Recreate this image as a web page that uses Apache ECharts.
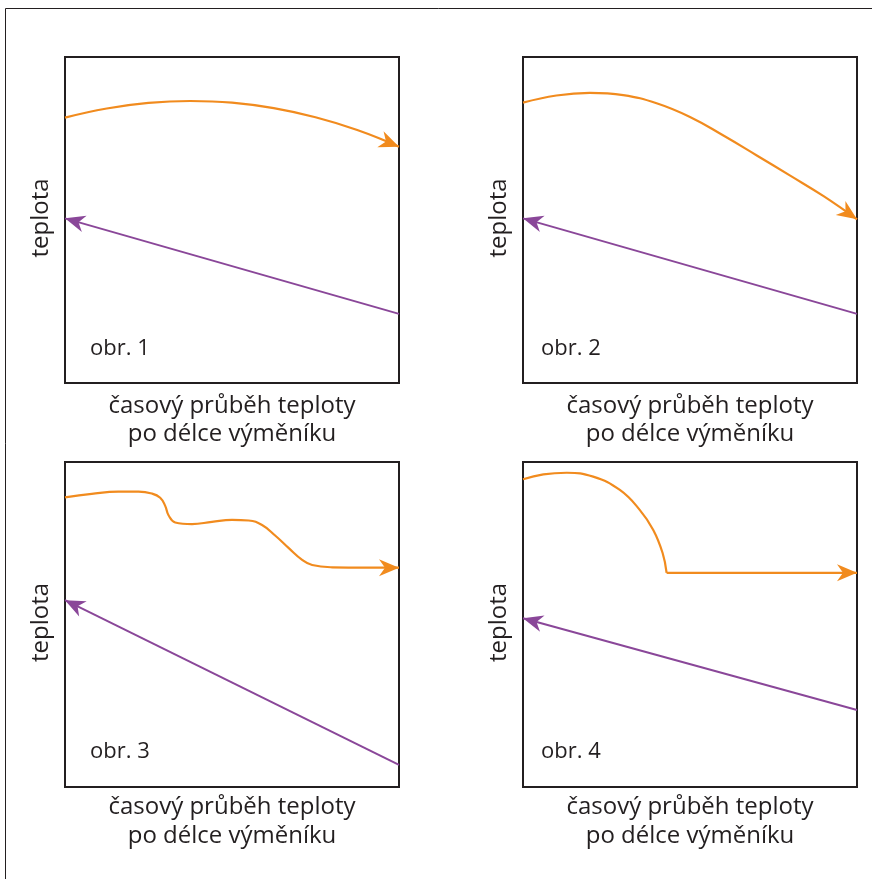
<!DOCTYPE html>
<html>
<head>
<meta charset="utf-8">
<script src="https://cdn.jsdelivr.net/npm/echarts@6/dist/echarts.min.js"></script>
<style>
  html, body { margin: 0; padding: 0; background: #fff; }
  #chart { width: 872px; height: 879px; }
</style>
</head>
<body>
<div id="chart"></div>
<script>
// Temperature profiles along a heat exchanger.
// x = position along the exchanger (0–100 %), y = relative temperature (0–100 %).
// Orange = heating medium (flows left → right), purple = heated medium (flows right → left).
const hot1 = [[0, 81.4], [12.5, 84.2], [25, 85.9], [37.5, 86.5], [50, 86.0], [62.5, 84.3], [75, 81.5], [87.5, 77.6], [100, 72.5]];
const cold1 = [[0, 50.5], [100, 21.2]];

const hot2 = [[0, 86.0], [10, 88.2], [20, 89.0], [30, 88.3], [40, 85.8], [50, 81.6], [60, 75.9], [70, 69.8], [80, 63.6], [90, 57.3], [100, 50.2]];
const cold2 = [[0, 50.5], [100, 21.2]];

const hot3 = [[0, 89.1], [8, 90.2], [16, 90.9], [22, 90.9], [26, 90.3], [28.5, 89.0], [30, 86.5], [31, 83.6], [33, 81.4], [38, 80.9], [44, 81.6], [50, 82.2], [55, 82.0], [59, 80.6], [63, 77.3], [67, 73.5], [71, 69.9], [74, 68.3], [80, 67.6], [90, 67.5], [100, 67.5]];
const cold3 = [[0, 57.5], [100, 6.8]];

const hot4Curve = [[0, 94.7], [6.1, 96.2], [13.1, 96.7], [21.0, 95.5], [29.0, 91.4], [35.0, 85.2], [39.0, 79.1], [41.8, 72.0], [43.0, 65.9]];
const hot4Flat = [[43.0, 65.9], [100, 65.9]];
const cold4 = [[0, 51.9], [100, 23.7]];

const panelTitles = ['obr. 1', 'obr. 2', 'obr. 3', 'obr. 4'];
const yAxisTitle = 'teplota';
const xAxisTitle = ['časový průběh teploty', 'po délce výměníku'];

// ---- styling / layout ----
const HOT = '#f18b1e';
const COLD = '#8a4799';
const INK = '#231f20';
const FONT = '"Open Sans", "Noto Sans", sans-serif';

const grids = [
  { left: 65, top: 57, width: 334, height: 326 },
  { left: 523, top: 57, width: 334, height: 326 },
  { left: 65, top: 462, width: 334, height: 325 },
  { left: 523, top: 462, width: 334, height: 325 }
];

const hotCurves = [[hot1], [hot2], [hot3], [hot4Curve, hot4Flat]];
const coldLines = [cold1, cold2, cold3, cold4];

const series = [];
const xAxes = [];
const yAxes = [];

grids.forEach((g, i) => {
  xAxes.push({ gridIndex: i, type: 'value', min: 0, max: 100, show: false });
  yAxes.push({ gridIndex: i, type: 'value', min: 0, max: 100, show: false });

  hotCurves[i].forEach((pts, k) => {
    series.push({
      type: 'line', xAxisIndex: i, yAxisIndex: i,
      data: pts, symbol: 'none', clip: false,
      smooth: k === 0 ? 0.45 : false,
      lineStyle: { color: HOT, width: 2.2 },
      silent: true, animation: false
    });
  });
  series.push({
    type: 'line', xAxisIndex: i, yAxisIndex: i,
    data: coldLines[i], symbol: 'none', clip: false,
    lineStyle: { color: COLD, width: 2 },
    silent: true, animation: false
  });

  // arrow heads: [fromX, fromY, tipX, tipY, colourIndex]
  const hotLast = hotCurves[i][hotCurves[i].length - 1];
  const hotFrom = hotLast[hotLast.length - 2];
  const hotTip = hotLast[hotLast.length - 1];
  const cold = coldLines[i];
  series.push({
    type: 'custom', xAxisIndex: i, yAxisIndex: i,
    silent: true, animation: false, clip: false,
    encode: { x: [0, 2], y: [1, 3] },
    data: [
      [hotFrom[0], hotFrom[1], hotTip[0], hotTip[1], 0],
      [cold[cold.length - 1][0], cold[cold.length - 1][1], cold[0][0], cold[0][1], 1]
    ],
    renderItem: (params, api) => {
      const a = api.coord([api.value(0), api.value(1)]);
      const b = api.coord([api.value(2), api.value(3)]);
      const ang = Math.atan2(b[1] - a[1], b[0] - a[0]);
      const L = 20, W = 8.5, N = 6;
      const c = Math.cos(ang), s = Math.sin(ang);
      const local = [[0, 0], [-L, -W], [-L + N, 0], [-L, W]];
      const pts = local.map(([u, v]) => [b[0] + u * c - v * s, b[1] + u * s + v * c]);
      return {
        type: 'polygon',
        shape: { points: pts },
        style: { fill: api.value(4) === 0 ? HOT : COLD, stroke: null }
      };
    }
  });
});

// text and frame
const graphic = [
  {
    type: 'polyline', silent: true,
    shape: { points: [[5.5, 879], [5.5, 8.5], [872, 8.5]] },
    style: { stroke: INK, lineWidth: 1, fill: null }
  }
];
const titlePos = [[90, 349], [541, 349], [90, 752], [541, 752]];
const xLabelY = [[406, 434], [406, 434], [807, 836], [807, 836]];
grids.forEach((g, i) => {
  const cx = g.left + g.width / 2;
  const cy = g.top + g.height / 2;
  graphic.push({
    type: 'text', silent: true,
    x: g.left - 24, y: cy - 2, rotation: Math.PI / 2,
    style: { text: yAxisTitle, font: '24px ' + FONT, fill: INK, align: 'center', verticalAlign: 'middle' }
  });
  xAxisTitle.forEach((t, k) => {
    graphic.push({
      type: 'text', silent: true,
      x: cx, y: xLabelY[i][k],
      style: { text: t, font: '24px ' + FONT, fill: INK, align: 'center', verticalAlign: 'middle' }
    });
  });
  graphic.push({
    type: 'text', silent: true,
    x: titlePos[i][0], y: titlePos[i][1],
    style: { text: panelTitles[i], font: '22px ' + FONT, fill: INK, align: 'left', verticalAlign: 'middle' }
  });
});

const chart = echarts.init(document.getElementById('chart'), null, { renderer: 'canvas' });
chart.setOption({
  backgroundColor: '#ffffff',
  animation: false,
  grid: grids.map(g => Object.assign({ show: true, borderColor: INK, borderWidth: 2, backgroundColor: 'transparent', containLabel: false }, g)),
  xAxis: xAxes,
  yAxis: yAxes,
  series: series,
  graphic: graphic
});
</script>
</body>
</html>
